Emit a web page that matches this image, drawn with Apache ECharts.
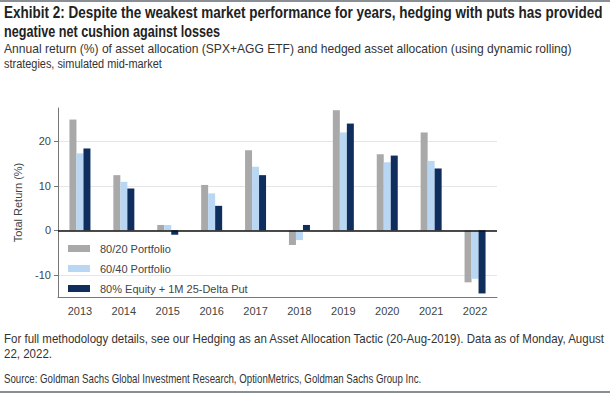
<!DOCTYPE html>
<html>
<head>
<meta charset="utf-8">
<script src="https://cdn.jsdelivr.net/npm/echarts@6/dist/echarts.min.js"></script>
<style>
html,body{margin:0;padding:0;background:#fff;}
#chart{width:610px;height:394px;}
</style>
</head>
<body>
<div id="chart"></div>
<script>
const categories = ['2013','2014','2015','2016','2017','2018','2019','2020','2021','2022'];
const portfolio8020 = [24.9, 12.4, 1.2, 10.2, 18.0, -3.3, 27.0, 17.1, 22.0, -11.7];
const portfolio6040 = [17.3, 10.9, 1.2, 8.3, 14.3, -2.2, 22.0, 15.3, 15.6, -10.9];
const equityPut = [18.4, 9.4, -1.0, 5.5, 12.4, 1.2, 24.0, 16.8, 13.9, -14.2];
const seriesNames = ['80/20 Portfolio', '60/40 Portfolio', '80% Equity + 1M 25-Delta Put'];
const yTicks = [-10, 0, 10, 20];

const titleLines = [
  'Exhibit 2: Despite the weakest market performance for years, hedging with puts has provided',
  'negative net cushion against losses'
];
const subtitleLines = [
  'Annual return (%) of asset allocation (SPX+AGG ETF) and hedged asset allocation (using dynamic rolling)',
  'strategies, simulated mid-market'
];
const footLines = [
  'For full methodology details, see our Hedging as an Asset Allocation Tactic (20-Aug-2019). Data as of Monday, August',
  '22, 2022.'
];
const sourceLine = 'Source: Goldman Sachs Global Investment Research, OptionMetrics, Goldman Sachs Group Inc.';

const FONT = '"Liberation Sans", Arial, sans-serif';
const colors = ['#a9a9a9', '#b9d7f3', '#0f2e5e'];

const measureCtx = document.createElement('canvas').getContext('2d');
function fontStr(size, weight) { return weight + ' ' + size + 'px ' + FONT; }
function fitScale(text, size, weight, targetW) {
  measureCtx.font = fontStr(size, weight);
  return targetW / measureCtx.measureText(text).width;
}

// each line is horizontally condensed so it spans the width it has in the reference
function block(lines, size, weight, color, widths, ys) {
  let last = 1;
  return lines.map((t, i) => {
    const sx = widths[i] ? fitScale(t, size, weight, widths[i]) : last;
    last = sx;
    return {
      type: 'text', x: 4, y: ys[i], scaleX: sx, silent: true,
      style: {text: t, font: fontStr(size, weight), fill: color, textVerticalAlign: 'middle', textAlign: 'left'}
    };
  });
}

const chart = echarts.init(document.getElementById('chart'), null, {renderer: 'svg'});

const mk = (name, data, i) => ({
  name: name, type: 'bar', data: data, barWidth: 7, barGap: '0%',
  itemStyle: {color: colors[i]}, z: 2
});

const s0 = mk(seriesNames[0], portfolio8020, 0);
s0.markLine = {
  silent: true, symbol: 'none', label: {show: false},
  lineStyle: {color: '#111', width: 1.5, type: 'solid'},
  data: [{yAxis: 0}], animation: false
};

chart.setOption({
  animation: false,
  graphic: [
    {type: 'rect', shape: {x: 0, y: 0, width: 610, height: 2}, style: {fill: '#8a8f96'}},
    {type: 'rect', shape: {x: 0, y: 391, width: 610, height: 2}, style: {fill: '#8a8f96'}}
  ].concat(
    block(titleLines, 16, 'bold', '#222', [599, 216], [13, 31]),
    block(subtitleLines, 13.5, 'normal', '#333', [568, 158], [48, 64]),
    block(footLines, 13, 'normal', '#333', [603, null], [339, 354]),
    block([sourceLine], 13, 'normal', '#333', [418], [378])
  ),
  legend: {
    orient: 'vertical', left: 68, top: 243, padding: 0,
    itemWidth: 22, itemHeight: 7, itemGap: 9,
    icon: 'rect',
    textStyle: {fontFamily: FONT, fontSize: 11, color: '#444', padding: [0, 0, 0, 5]},
    data: seriesNames
  },
  grid: {left: 58, right: 113, top: 108, bottom: 97},
  xAxis: {
    type: 'category', data: categories,
    axisLine: {onZero: false, lineStyle: {color: '#777', width: 1}},
    axisTick: {alignWithLabel: true, length: 4, lineStyle: {color: '#777'}},
    axisLabel: {fontFamily: FONT, fontSize: 11, color: '#444', margin: 8}
  },
  yAxis: {
    type: 'value', min: -15, max: 27.5,
    name: 'Total Return (%)', nameLocation: 'middle', nameGap: 35, nameRotate: 90,
    nameTextStyle: {fontFamily: FONT, fontSize: 11, color: '#444'},
    axisLine: {show: true, lineStyle: {color: '#777'}},
    axisTick: {show: true, length: 4, lineStyle: {color: '#777'}, customValues: yTicks},
    axisLabel: {fontFamily: FONT, fontSize: 11, color: '#444', margin: 7, customValues: yTicks},
    splitLine: {show: true, lineStyle: {color: '#e6e6e6', width: 1}}
  },
  series: [
    s0,
    mk(seriesNames[1], portfolio6040, 1),
    mk(seriesNames[2], equityPut, 2)
  ]
});
</script>
</body>
</html>
